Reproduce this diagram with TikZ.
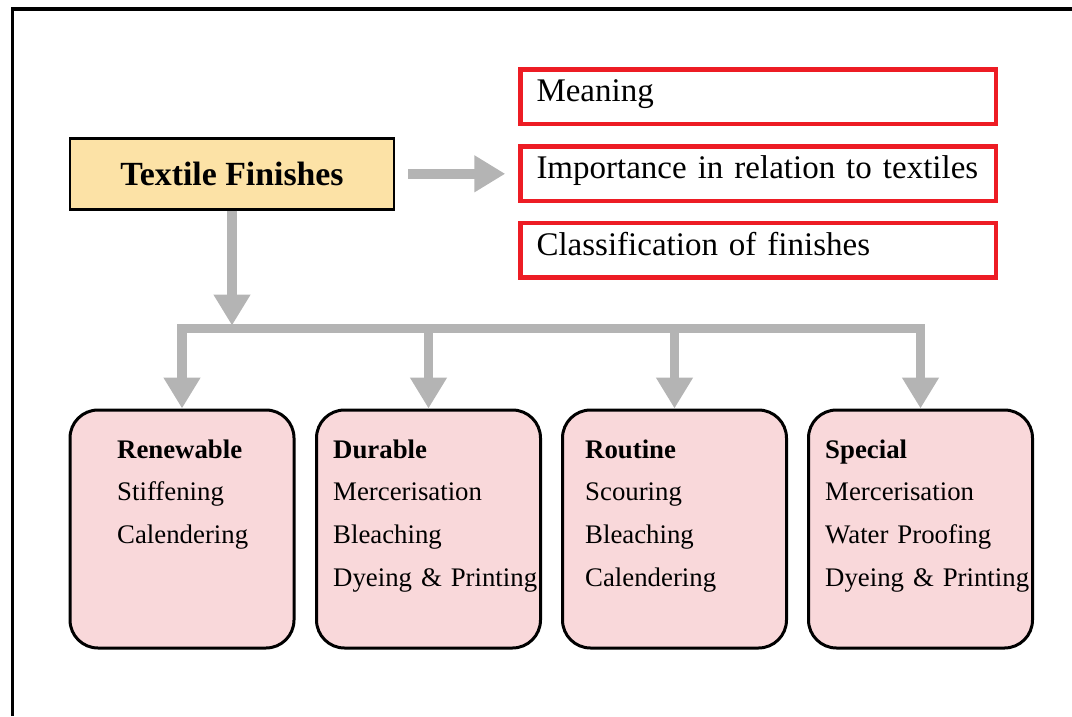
\documentclass[tikz,border=0pt]{standalone}
\usepackage{fontspec}
\setmainfont{Liberation Serif}
\usetikzlibrary{arrows.meta}
\definecolor{tfblock}{RGB}{252, 226, 166}
\definecolor{clblock}{RGB}{249, 216, 218}
\definecolor{itemred}{RGB}{237, 28, 36}
\definecolor{flowgray}{RGB}{180, 180, 180}

\begin{document}
\begin{tikzpicture}[x=1pt, y=-1pt,
	flow/.style={draw=flowgray, line width=9.5pt, line join=miter, -{Triangle[length=31pt, width=35pt]}},
	topbox/.style={draw=black, line width=2.5pt, fill=tfblock, minimum width=324pt, minimum height=71pt, font=\fontsize{33.8}{40}\selectfont\bfseries},
	itembox/.style={draw=itemred, line width=4.5pt, minimum width=475.5pt, minimum height=54.5pt, text width=443.5pt, align=left, inner xsep=16pt, inner ysep=0pt, text height=20pt, text depth=10pt, font=\fontsize{33}{40}\selectfont},
	classbox/.style={draw=black, line width=3pt, fill=clblock, rounded corners=28pt, minimum width=224pt, minimum height=238pt},
	classtext/.style={anchor=base west, text width=260pt, align=left, inner sep=0pt, font=\fontsize{26.8}{42.7}\selectfont}]
			\useasboundingbox (0, 0) rectangle (1072, 716);
			
			% outer frame
			\draw[black, line width=3.5pt, line join=miter] (12.5, 716) -- (12.5, 9) -- (1072, 9);
			
			\node[topbox] (tf) at (232, 173.8) {Textile Finishes};
			
			\node[itembox] (mean) at (758.25, 96.75) {Meaning};
			\node[itembox] (imp) at (758.25, 173.5) {Importance in relation to textiles};
			\node[itembox] (cls) at (758.25, 250) {Classification of finishes};
			
			\node[classbox] (ren) at (182, 529) {};
			\node[classbox] (dur) at (428.5, 529) {};
			\node[classbox] (rou) at (674.5, 529) {};
			\node[classbox] (spe) at (920.5, 529) {};
			
			\node[classtext] (rentxt) at (117, 458) {\textbf{Renewable}\\Stiffening\\Calendering};
			\node[classtext] (durtxt) at (333, 458) {\textbf{Durable}\\Mercerisation\\Bleaching\\Dyeing \& Printing};
			\node[classtext] (routxt) at (585, 458) {\textbf{Routine}\\Scouring\\Bleaching\\Calendering};
			\node[classtext] (spetxt) at (825, 458) {\textbf{Special}\\Mercerisation\\Water Proofing\\Dyeing \& Printing};
			
			% arrows
			\draw[flow, shorten <=13pt, shorten >=13pt] (tf.east) -- (tf.east -| imp.west);
			\coordinate (split) at (232, 328.5);
			\draw[flow, shorten >=3pt] (tf.south) -- (split);
			\foreach \b in {ren, dur, rou, spe} {
				\draw[flow] (split) -| (\b.north);
			}
			
		\end{tikzpicture}
\end{document}
